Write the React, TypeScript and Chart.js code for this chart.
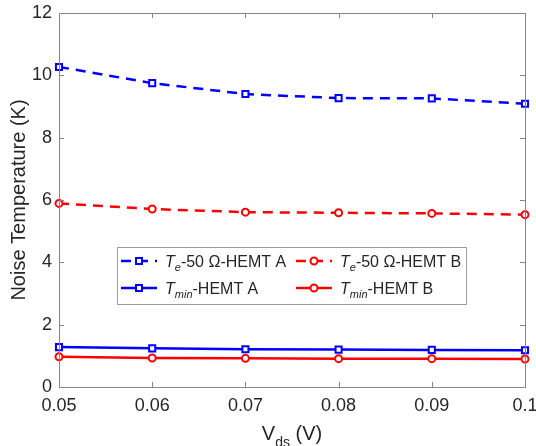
import React, { useEffect, useRef } from "react";
import { Chart, registerables } from "chart.js";

Chart.register(...registerables);

// ---- data ----
const vds = [0.05, 0.06, 0.07, 0.08, 0.09, 0.1];
const teHemtA = [10.27, 9.75, 9.4, 9.27, 9.26, 9.09];
const teHemtB = [5.89, 5.71, 5.61, 5.59, 5.57, 5.53];
const tminHemtA = [1.28, 1.24, 1.21, 1.2, 1.19, 1.18];
const tminHemtB = [0.97, 0.93, 0.92, 0.91, 0.91, 0.9];
const xTickLabels = ["0.05", "0.06", "0.07", "0.08", "0.09", "0.1"];
const yTickValues = [0, 2, 4, 6, 8, 10, 12];

const legendMain = ["T", "T", "T", "T"];
const legendSub = ["e", "e", "min", "min"];
const legendRest = ["-50 \u03A9-HEMT A", "-50 \u03A9-HEMT B", "-HEMT A", "-HEMT B"];

const FONT = '"Liberation Sans", Arial, Helvetica, sans-serif';
const AXIS = "#868686";
const TEXT = "#262626";
const BLUE = "#0000ff";
const RED = "#ff0000";

const series = [
  { values: teHemtA, color: BLUE, dash: [10, 7], style: "rect" },
  { values: teHemtB, color: RED, dash: [10, 7], style: "circle" },
  { values: tminHemtA, color: BLUE, dash: [] as number[], style: "rect" },
  { values: tminHemtB, color: RED, dash: [] as number[], style: "circle" },
];

function drawMarker(ctx: CanvasRenderingContext2D, style: string, color: string, x: number, y: number) {
  ctx.save();
  ctx.setLineDash([]);
  ctx.strokeStyle = color;
  ctx.fillStyle = "#ffffff";
  ctx.lineWidth = 2;
  ctx.beginPath();
  if (style === "rect") {
    ctx.rect(x - 3, y - 3, 6, 6);
  } else {
    ctx.arc(x, y, 3.5, 0, Math.PI * 2);
  }
  ctx.fill();
  ctx.stroke();
  ctx.restore();
}

const framePlugin = {
  id: "frame",
  afterDatasetsDraw(chart: any) {
    const { ctx, chartArea: a, scales } = chart;
    ctx.save();
    ctx.strokeStyle = AXIS;
    ctx.lineWidth = 1;
    ctx.setLineDash([]);
    ctx.strokeRect(Math.round(a.left) + 0.5, Math.round(a.top) + 0.5, Math.round(a.right - a.left), Math.round(a.bottom - a.top));
    const tl = 5;
    ctx.beginPath();
    for (const t of scales.y.ticks) {
      const y = Math.round(scales.y.getPixelForValue(t.value)) + 0.5;
      ctx.moveTo(a.left, y);
      ctx.lineTo(a.left + tl, y);
      ctx.moveTo(a.right, y);
      ctx.lineTo(a.right - tl, y);
    }
    for (const t of scales.x.ticks) {
      const x = Math.round(scales.x.getPixelForValue(t.value)) + 0.5;
      ctx.moveTo(x, a.bottom);
      ctx.lineTo(x, a.bottom - tl);
      ctx.moveTo(x, a.top);
      ctx.lineTo(x, a.top + tl);
    }
    ctx.stroke();

    // Y title
    ctx.fillStyle = TEXT;
    ctx.save();
    ctx.translate(19, (a.top + a.bottom) / 2);
    ctx.rotate(-Math.PI / 2);
    ctx.font = `20px ${FONT}`;
    ctx.textAlign = "center";
    ctx.textBaseline = "middle";
    ctx.fillText("Noise Temperature (K)", 0, 0);
    ctx.restore();

    // X title: V_ds (V)
    ctx.textBaseline = "alphabetic";
    ctx.textAlign = "left";
    const big = `20px ${FONT}`;
    const small = `14px ${FONT}`;
    ctx.font = big;
    const wV = ctx.measureText("V").width;
    const wR = ctx.measureText(" (V)").width;
    ctx.font = small;
    const wS = ctx.measureText("ds").width;
    const total = wV + wS + wR;
    let x0 = (a.left + a.right) / 2 - total / 2;
    const base = 440;
    ctx.font = big;
    ctx.fillText("V", x0, base);
    x0 += wV;
    ctx.font = small;
    ctx.fillText("ds", x0, base + 7);
    x0 += wS;
    ctx.font = big;
    ctx.fillText(" (V)", x0, base);

    // Legend
    const bx = 117, by = 247, bw = 349, bh = 57;
    ctx.fillStyle = "#ffffff";
    ctx.fillRect(bx, by, bw, bh);
    ctx.strokeStyle = "#9a9a9a";
    ctx.lineWidth = 1;
    ctx.strokeRect(bx + 0.5, by + 0.5, bw, bh);
    const cols = [
      { x1: 121, x2: 157, tx: 165 },
      { x1: 296, x2: 332, tx: 340 },
    ];
    const rows = [261, 288];
    series.forEach((s, i) => {
      const c = cols[i % 2];
      const y = rows[Math.floor(i / 2)];
      ctx.save();
      ctx.strokeStyle = s.color;
      ctx.lineWidth = 2.5;
      ctx.setLineDash(s.dash);
      ctx.beginPath();
      ctx.moveTo(c.x1, y);
      ctx.lineTo(c.x2, y);
      ctx.stroke();
      ctx.restore();
      drawMarker(ctx, s.style, s.color, (c.x1 + c.x2) / 2, y);
      ctx.fillStyle = TEXT;
      ctx.textBaseline = "alphabetic";
      ctx.textAlign = "left";
      let tx = c.tx;
      const bl = y + 6;
      ctx.font = `italic 16px ${FONT}`;
      ctx.fillText(legendMain[i], tx, bl);
      tx += ctx.measureText(legendMain[i]).width;
      ctx.font = `italic 11px ${FONT}`;
      ctx.fillText(legendSub[i], tx, bl + 4);
      tx += ctx.measureText(legendSub[i]).width;
      ctx.font = `16px ${FONT}`;
      ctx.fillText(legendRest[i], tx, bl);
    });
    ctx.restore();
  },
};

export default function App() {
  const ref = useRef<HTMLCanvasElement | null>(null);
  useEffect(() => {
    if (!ref.current) return;
    const chart = new Chart(ref.current, {
      type: "line",
      data: {
        datasets: series.map((s, i) => ({
          label: legendMain[i] + legendSub[i] + legendRest[i],
          data: vds.map((x, k) => ({ x, y: s.values[k] })),
          borderColor: s.color,
          backgroundColor: "#ffffff",
          borderWidth: 2.5,
          borderDash: s.dash,
          pointStyle: s.style as any,
          pointRadius: s.style === "rect" ? 4.3 : 3.5,
          pointBorderWidth: 2,
          pointBorderColor: s.color,
          pointBackgroundColor: "#ffffff",
          tension: 0,
          clip: false as any,
        })),
      },
      options: {
        animation: false,
        responsive: false,
        maintainAspectRatio: false,
        layout: { padding: { top: 13, right: 11, left: 0, bottom: 0 } },
        plugins: { legend: { display: false }, tooltip: { enabled: false } },
        scales: {
          x: {
            type: "linear",
            min: 0.05,
            max: 0.1,
            grid: { display: false, drawTicks: false },
            border: { display: false },
            ticks: {
              stepSize: 0.01,
              padding: 8,
              color: TEXT,
              font: { family: FONT, size: 18 },
              maxRotation: 0,
              autoSkip: false,
              callback: (v: any) => xTickLabels[Math.round((Number(v) - 0.05) / 0.01)] ?? "",
            },
            afterFit: (s: any) => {
              s.height = 59;
              s.paddingLeft = 0;
              s.paddingRight = 0;
            },
          },
          y: {
            type: "linear",
            min: 0,
            max: 12,
            grid: { display: false, drawTicks: false },
            border: { display: false },
            ticks: {
              stepSize: 2,
              padding: 7,
              color: TEXT,
              font: { family: FONT, size: 18 },
              callback: (v: any) => (yTickValues.includes(Number(v)) ? String(v) : ""),
            },
            afterFit: (s: any) => {
              s.width = 59;
              s.paddingTop = 0;
              s.paddingBottom = 0;
            },
          },
        },
      },
      plugins: [framePlugin],
    });
    return () => chart.destroy();
  }, []);
  return (
    <div style={{ position: "fixed", left: 0, top: 0, width: 536, height: 446, background: "#ffffff" }}>
      <canvas ref={ref} width={536} height={446} />
    </div>
  );
}
